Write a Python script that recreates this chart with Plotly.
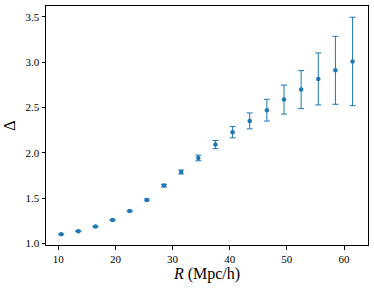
import plotly.graph_objects as go

R = [10.5, 13.5, 16.5, 19.5, 22.5, 25.5, 28.5, 31.5, 34.5, 37.5, 40.5, 43.5, 46.5, 49.5, 52.5, 55.5, 58.5, 61.5]
delta = [1.10, 1.135, 1.185, 1.258, 1.357, 1.48, 1.638, 1.788, 1.943, 2.09, 2.227, 2.352, 2.47, 2.587, 2.697, 2.815, 2.91, 3.008]
err = [0.004, 0.005, 0.006, 0.007, 0.008, 0.010, 0.014, 0.022, 0.032, 0.045, 0.062, 0.088, 0.12, 0.16, 0.21, 0.287, 0.375, 0.488]
xticks = [10, 20, 30, 40, 50, 60]
yticks = [1.0, 1.5, 2.0, 2.5, 3.0, 3.5]

blue = "#1f77b4"
fig = go.Figure(go.Scatter(
    x=R, y=delta, mode="markers",
    marker=dict(color=blue, size=4.5),
    error_y=dict(type="data", array=err, visible=True, color=blue, thickness=1, width=3),
))

font = "Liberation Serif"
axis_common = dict(showline=True, linecolor="black", linewidth=1, mirror=True,
                   ticks="outside", ticklen=3.5, tickwidth=1, tickcolor="black",
                   showgrid=False, zeroline=False,
                   tickfont=dict(family=font, size=11, color="black"))
fig.update_xaxes(range=[7.85, 64.2], tickvals=xticks, ticktext=[str(t) for t in xticks],
                 title=dict(text="<i>R</i> (Mpc/h)", font=dict(family=font, size=16, color="black"), standoff=3),
                 **axis_common)
fig.update_yaxes(range=[0.982, 3.62], tickvals=yticks, ticktext=[f"{t:.1f}" for t in yticks],
                 title=dict(text="Δ", font=dict(family=font, size=16, color="black"), standoff=5),
                 **axis_common)
fig.update_layout(width=374, height=289, margin=dict(l=46, r=6, t=6, b=44),
                  plot_bgcolor="white", paper_bgcolor="white", showlegend=False)
fig.write_html("out.html", config={"displayModeBar": False},
               post_script="document.body.style.margin='0';document.body.style.overflow='hidden';")
